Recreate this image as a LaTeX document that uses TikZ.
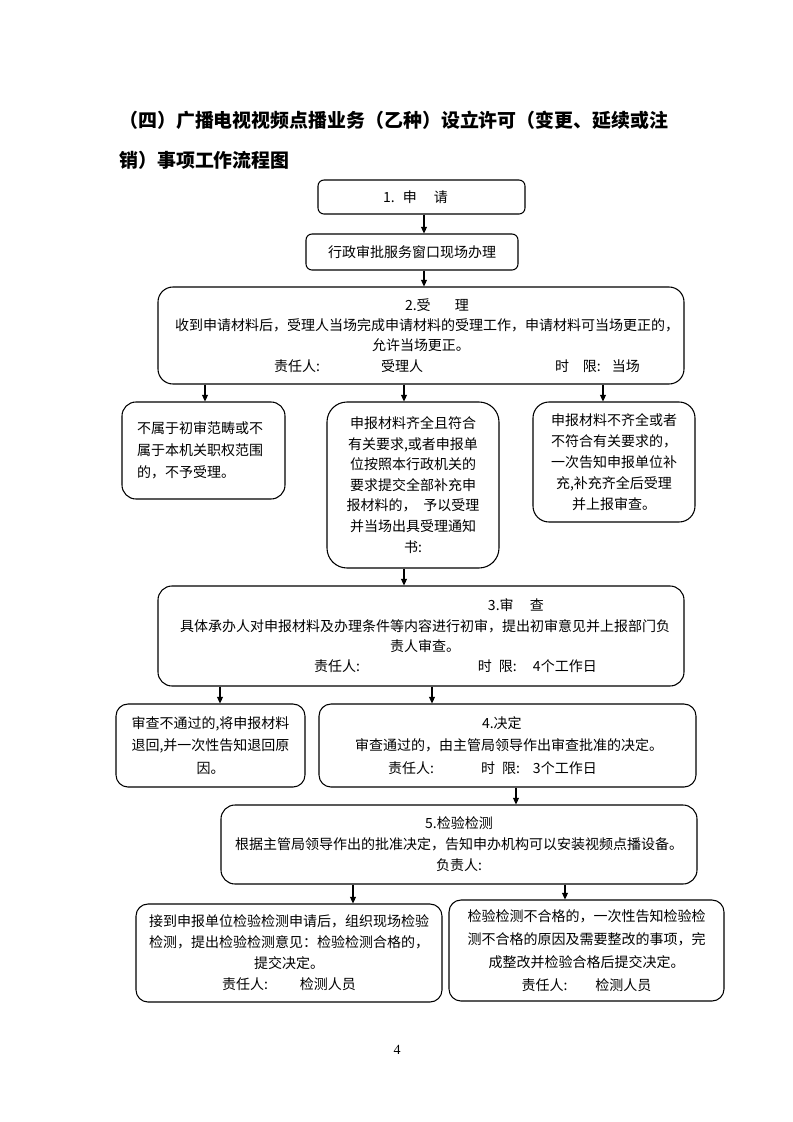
\documentclass[tikz,border=0pt]{standalone}
\usepackage{fontspec}
\setmainfont{Liberation Serif}
\newfontfamily\cjk{Noto Sans CJK SC}
\usetikzlibrary{arrows.meta}
\newdimen\pu \pu=0.75pt
\newcommand\tx[2]{\leavevmode\rlap{\hspace*{#1\pu}#2}}
\tikzset{
  box/.style={draw, line width=0.8pt, inner sep=0pt, align=center},
  boxl/.style={draw, line width=0.8pt, inner sep=0pt, align=left},
  fs/.style={font=\cjk\fontsize{10.5pt}{#1}\selectfont},
  arr/.style={line width=0.8pt, -{Triangle[length=5pt,width=4.5pt]}},
  ttl/.style={anchor=base west, inner sep=0pt, font=\cjk\bfseries\fontsize{14.2pt}{20pt}\selectfont},
}
\begin{document}
\begin{tikzpicture}[x=0.75pt, y=-0.75pt]
\useasboundingbox (0,0) rectangle (793,1122);

% title
\node[ttl] (title1) at (119,127.5) {（四）广播电视视频点播业务（乙种）设立许可（变更、延续或注};
\node[ttl] (title2) at (119,167.5) {销）事项工作流程图};

% boxes
\node[boxl, fs=15pt, rounded corners=4.5pt, text width=155.25pt, minimum height=25.5pt] (apply) at (421.5,197)
  {\tx{65}{1.}\tx{85}{申}\tx{116}{请}};
\node[box, fs=15pt, rounded corners=4.5pt, minimum width=159pt, minimum height=27pt] (window) at (412,252)
  {行政审批服务窗口现场办理};
\node[boxl, fs=15.2pt, rounded corners=11.25pt, text width=394.5pt, minimum height=72.75pt] (accept) at (421,335.5)
  {\tx{247}{2.受}\tx{297}{理}\\
   \tx{17}{收到申请材料后，受理人当场完成申请材料的受理工作，申请材料可当场更正的，}\\
   \tx{214}{允许当场更正。}\\
   \tx{116}{责任人:}\tx{223}{受理人}\tx{397}{时}\tx{425}{限:}\tx{454}{当场}};

\node[boxl, fs=16.5pt, rounded corners=10.5pt, text width=122.25pt, minimum height=72.75pt] (reject) at (203.5,450.5)
  {\tx{15}{不属于初审范畴或不}\\\tx{15}{属于本机关职权范围}\\\tx{15}{的，不予受理。}};
\node[box, fs=15.4pt, rounded corners=15pt, minimum width=129pt, minimum height=124.5pt] (ok) at (413,485)
  {申报材料齐全且符合\\有关要求,或者申报单\\位按照本行政机关的\\要求提交全部补充申\\报材料的，\hspace{7\pu}予以受理\\并当场出具受理通知\\书:};
\node[box, fs=15.75pt, rounded corners=12pt, minimum width=121.5pt, minimum height=90pt] (supp) at (614,462)
  {申报材料不齐全或者\\不符合有关要求的，\\一次告知申报单位补\\充,补充齐全后受理\\并上报审查。};

\node[boxl, fs=15.2pt, rounded corners=10.5pt, text width=394.5pt, minimum height=75pt] (review) at (421,636)
  {\tx{330}{3.审}\tx{372}{查}\\
   \tx{22}{具体承办人对申报材料及办理条件等内容进行初审，提出初审意见并上报部门负}\\
   \tx{232}{责人审查。}\\
   \tx{156}{责任人:}\tx{320}{时}\tx{341}{限:}\tx{375}{4个工作日}};

\node[box, fs=17pt, rounded corners=9pt, minimum width=141.75pt, minimum height=62.25pt] (fail) at (210.5,745.5)
  {审查不通过的,将申报材料\\退回,并一次性告知退回原\\因。};
\node[boxl, fs=17pt, rounded corners=9pt, text width=282.75pt, minimum height=62.25pt] (decide) at (507.5,745.5)
  {\tx{163}{4.决定}\\
   \tx{36}{审查通过的，由主管局领导作出审查批准的决定。}\\
   \tx{69}{责任人:}\tx{162}{时}\tx{183}{限:}\tx{214}{3个工作日}};

\node[box, fs=15.75pt, rounded corners=10.5pt, minimum width=357pt, minimum height=59.25pt] (inspect) at (459,844.5)
  {5.检验检测\\根据主管局领导作出的批准决定，告知申办机构可以安装视频点播设备。\\负责人:};

\node[box, fs=15.75pt, rounded corners=9pt, minimum width=229.5pt, minimum height=73.5pt] (pass) at (289,953)
  {接到申报单位检验检测申请后，组织现场检验\\检测，提出检验检测意见：检验检测合格的，\\提交决定。\\责任人:\hspace{32\pu}检测人员};
\node[box, fs=17.25pt, rounded corners=9pt, minimum width=206.25pt, minimum height=75.75pt] (retest) at (586.5,950.5)
  {检验检测不合格的，一次性告知检验检\\测不合格的原因及需要整改的事项，完\\成整改并检验合格后提交决定。\\责任人:\hspace{28\pu}检测人员};

% connectors
\draw[arr] (apply.south -| 424,0) -- (window.north -| 424,0);
\draw[arr] (window.south -| 424,0) -- (accept.north -| 424,0);
\draw[arr] (accept.south -| 205,0) -- (reject.north -| 205,0);
\draw[arr] (accept.south -| 404,0) -- (ok.north -| 404,0);
\draw[arr] (accept.south -| 603,0) -- (supp.north -| 603,0);
\draw[arr] (ok.south -| 404,0) -- (review.north -| 404,0);
\draw[arr] (review.south -| 220,0) -- (fail.north -| 220,0);
\draw[arr] (review.south -| 432,0) -- (decide.north -| 432,0);
\draw[arr] (decide.south -| 516,0) -- (inspect.north -| 516,0);
\draw[arr] (inspect.south -| 353,0) -- (pass.north -| 353,0);
\draw[arr] (inspect.south -| 565,0) -- (retest.north -| 565,0);

% page number
\node[inner sep=0pt, anchor=base, font=\fontsize{10.5pt}{12pt}\selectfont] (page) at (397,1054) {4};
\end{tikzpicture}
\end{document}
